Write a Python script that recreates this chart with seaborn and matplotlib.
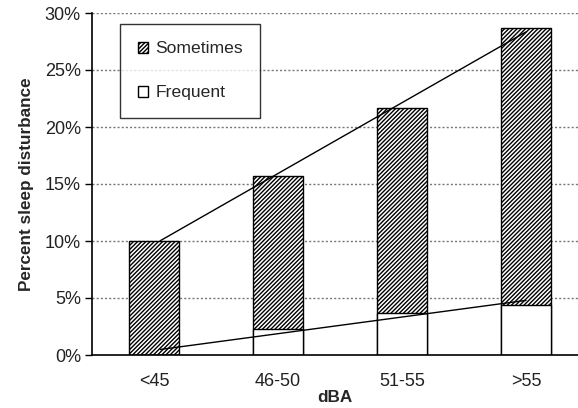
import numpy as np
import pandas as pd
import matplotlib
matplotlib.use('Agg')
import matplotlib.pyplot as plt
import seaborn as sns
from matplotlib.patches import Patch

# values (percent)
dba_groups = ['<45', '46-50', '51-55', '>55']
frequent = [0.0, 2.3, 3.7, 4.4]
sometimes = [10.0, 13.4, 18.0, 24.3]
total = [f + s for f, s in zip(frequent, sometimes)]

df = pd.DataFrame({'dBA': dba_groups, 'frequent': frequent,
                   'sometimes': sometimes, 'total': total})

sns.set_style('white')
plt.rcParams['font.family'] = ['Liberation Sans', 'DejaVu Sans']
plt.rcParams['hatch.linewidth'] = 1.0
HATCH = '////////'

fig = plt.figure(figsize=(5.78, 4.08), dpi=100)
ax = fig.add_axes([92/578, 53/408, 486/578, 342/408])

# hatched = sometimes (stacked on top of frequent), white = frequent
sns.barplot(data=df, x='dBA', y='total', color='white', edgecolor='black',
            linewidth=1, width=0.4, hatch=HATCH, ax=ax)
sns.barplot(data=df, x='dBA', y='frequent', color='white', edgecolor='black',
            linewidth=1, width=0.4, ax=ax)

# linear trend lines
xs = np.arange(len(dba_groups))
for vals in (total, frequent):
    k, b = np.polyfit(xs, vals, 1)
    ax.plot([0.05, 3.0], [k*0.05 + b, k*3.0 + b], color='black', lw=1)

ax.set_ylim(0, 30)
ax.set_xlim(-0.5, 3.42)
ax.set_yticks(range(0, 31, 5))
ax.set_yticklabels([f'{v}%' for v in range(0, 31, 5)], fontsize=13, color='#222222')
ax.set_xticks(xs)
ax.set_xticklabels(dba_groups, fontsize=13, color='#222222')
ax.set_xticks([-0.5, 0.5, 1.5, 2.5], minor=True)
ax.tick_params(axis='x', which='major', length=0, pad=13)
ax.tick_params(axis='x', which='minor', length=5, width=1, color='black', direction='out')
ax.tick_params(axis='y', length=5, width=1, color='black', direction='out', pad=3, left=True)

for v in range(5, 31, 5):
    ax.axhline(v, color='#777777', lw=1, ls=(0, (1.5, 1.5)), zorder=0)

for s in ['top', 'right']:
    ax.spines[s].set_visible(False)
for s in ['left', 'bottom']:
    ax.spines[s].set_color('black')
    ax.spines[s].set_linewidth(1.2)

ax.set_ylabel('Percent sleep disturbance', fontsize=12.3, fontweight='bold', labelpad=8)
ax.set_xlabel('dBA', fontsize=12.3, fontweight='bold', labelpad=0)

handles = [Patch(facecolor='white', edgecolor='black', hatch=HATCH, label='Sometimes'),
           Patch(facecolor='white', edgecolor='black', label='Frequent')]
leg = ax.legend(handles=handles, loc='upper left', bbox_to_anchor=(0.058, 0.968),
                borderaxespad=0, fancybox=False, frameon=True, edgecolor='black',
                fontsize=12.6, handlelength=0.6, handleheight=0.6, handletextpad=0.4,
                labelspacing=1.65, borderpad=1.0)
leg.get_frame().set_linewidth(1)
leg.get_frame().set_facecolor('white')

fig.savefig('out.png', dpi=100)
